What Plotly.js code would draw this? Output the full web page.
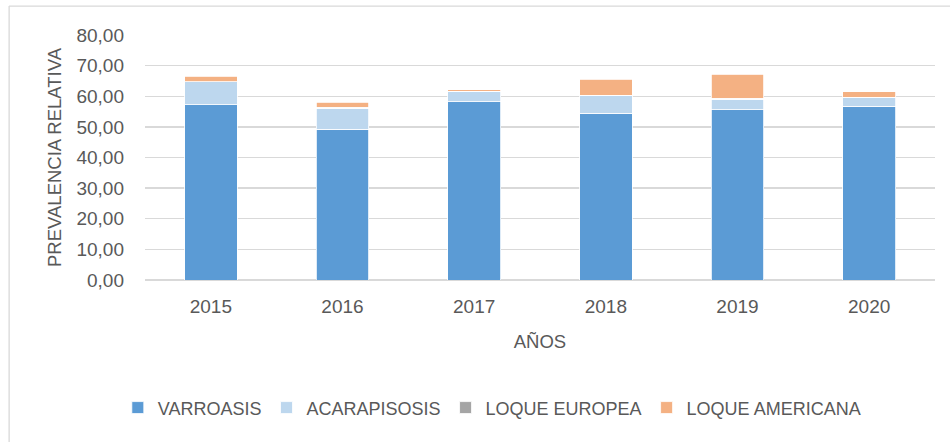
<!DOCTYPE html>
<html>
<head>
<meta charset="utf-8">
<script src="https://cdn.plot.ly/plotly-3.0.1.min.js"></script>
<style>
  html, body { margin: 0; padding: 0; background: #fff; }
  #chart { width: 950px; height: 442px; }
</style>
</head>
<body>
<div id="chart"></div>
<script>
const years = ['2015', '2016', '2017', '2018', '2019', '2020'];
const varroasis = [57.3, 49.2, 58.2, 54.5, 55.6, 56.8];
const acarapisosis = [7.4, 6.9, 3.4, 5.8, 3.5, 2.8];
const loqueEuropea = [0.0, 0.3, 0.0, 0.0, 0.3, 0.0];
const loqueAmericana = [1.9, 1.6, 0.5, 5.2, 7.8, 1.9];
const yTicks = [0, 10, 20, 30, 40, 50, 60, 70, 80];
const yTickText = yTicks.map(v => v.toFixed(2).replace('.', ','));

const FONT = 'Liberation Sans, Arial, sans-serif';
const TXT = '#595959';

function bar(name, y, color) {
  return {
    type: 'bar', name: name, x: years, y: y,
    marker: { color: color, line: { color: '#ffffff', width: 0.8 } },
    hoverinfo: 'x+y+name'
  };
}

const data = [
  bar('VARROASIS', varroasis, '#5B9BD5'),
  bar('ACARAPISOSIS', acarapisosis, '#BDD7EE'),
  bar('LOQUE EUROPEA', loqueEuropea, '#A5A5A5'),
  bar('LOQUE AMERICANA', loqueAmericana, '#F4B183')
];

const layout = {
  width: 950, height: 442,
  barmode: 'stack',
  bargap: 0.6,
  paper_bgcolor: '#ffffff',
  plot_bgcolor: '#ffffff',
  font: { family: FONT, size: 18, color: TXT },
  margin: { l: 145, r: 15, t: 35, b: 162, autoexpand: false },
  xaxis: {
    type: 'category',
    showgrid: false, showline: false, zeroline: false,
    ticks: '', ticklabelstandoff: 13,
    tickfont: { family: FONT, size: 19, color: TXT },
    title: { text: 'AÑOS', font: { family: FONT, size: 18.5, color: TXT }, standoff: 19 },
    automargin: false
  },
  yaxis: {
    range: [0, 80],
    tickvals: yTicks, ticktext: yTickText,
    showgrid: true, gridcolor: '#D9D9D9', gridwidth: 1.3,
    zeroline: true, zerolinecolor: '#D9D9D9', zerolinewidth: 1.3,
    showline: false, ticks: '', ticklabelstandoff: 20,
    tickfont: { family: FONT, size: 19, color: TXT },
    title: { text: 'PREVALENCIA RELATIVA', font: { family: FONT, size: 18.5, color: TXT }, standoff: 9 },
    automargin: false
  },
  legend: {
    orientation: 'h', x: 0.439, xanchor: 'center', y: -0.522, yanchor: 'middle',
    font: { family: FONT, size: 18, color: TXT },
    traceorder: 'normal', itemwidth: 30, itemclick: false
  },
  shapes: [
    { type: 'line', xref: 'paper', yref: 'paper', x0: -0.172, x1: 1.1, y0: 1.118, y1: 1.118,
      line: { color: '#D9D9D9', width: 1.3 } },
    { type: 'line', xref: 'paper', yref: 'paper', x0: -0.172, x1: -0.172, y0: 1.118, y1: -0.7,
      line: { color: '#D9D9D9', width: 1.3 } }
  ]
};

Plotly.newPlot('chart', data, layout, { displayModeBar: false, staticPlot: true });
</script>
</body>
</html>
